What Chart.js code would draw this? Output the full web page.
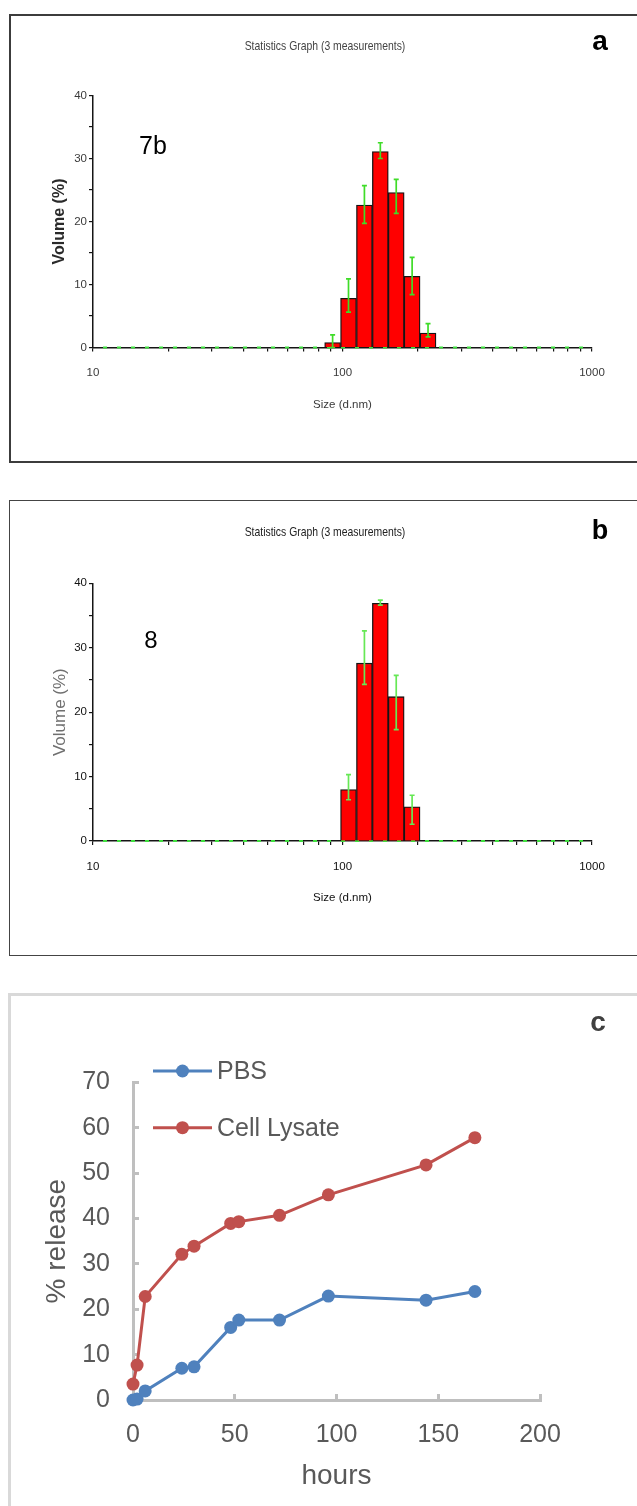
<!DOCTYPE html>
<html><head><meta charset="utf-8">
<script src="https://cdn.jsdelivr.net/npm/chart.js@4.4.1/dist/chart.umd.min.js"></script>
<style>
html,body{margin:0;padding:0;width:637px;height:1506px;overflow:hidden;background:#fff;}
.box{position:absolute;box-sizing:border-box;}
#boxA{left:9px;top:14px;width:700px;height:449px;border:2px solid #3c3c3c;}
#boxB{left:9px;top:500px;width:700px;height:456px;border:1px solid #444;}
#boxC{left:8px;top:993px;width:700px;height:600px;border:3px solid #d9d9d9;}
canvas{position:absolute;left:0;}
.lbl{position:absolute;transform:translate(-50%,-50%);white-space:nowrap;line-height:1;}
.narrow{transform:translate(-50%,-50%) scaleX(0.8);}
.sans{font-family:"Liberation Sans",Arial,sans-serif;}
</style></head>
<body>
<div class="box" id="boxA"></div>
<div class="box" id="boxB"></div>
<div class="box" id="boxC"></div>
<canvas id="cA" width="637" height="480" style="top:0px"></canvas>
<canvas id="cB" width="637" height="480" style="top:480px"></canvas>
<canvas id="cC" width="637" height="546" style="top:960px"></canvas>
<div class="lbl sans narrow" style="left:325px;top:45px;font-size:13px;color:#444">Statistics Graph (3 measurements)</div>
<div class="lbl sans narrow" style="left:325px;top:531px;font-size:13px;color:#222">Statistics Graph (3 measurements)</div>
<div class="lbl sans" style="left:600px;top:41px;font-size:28px;font-weight:bold;color:#000">a</div>
<div class="lbl sans" style="left:600px;top:530px;font-size:27px;font-weight:bold;color:#000">b</div>
<div class="lbl sans" style="left:598px;top:1022px;font-size:28px;font-weight:bold;color:#404040">c</div>
<div class="lbl sans" style="left:153px;top:145px;font-size:25px;color:#000">7b</div>
<div class="lbl sans" style="left:151px;top:640px;font-size:24px;color:#000">8</div>
<script>
// ---------- data ----------
const sizeAxisMin = 10;
const sizeAxisMax = 1000;
const sizeTickValues = [10, 20, 30, 40, 50, 60, 70, 80, 90, 100, 200, 300, 400, 500, 600, 700, 800, 900, 1000];
const sizeTickLabels = [10, 100, 1000];

const binSizesA = [91.28, 105.7, 122.4, 141.8, 164.2, 190.1, 220.2];
const volumeA   = [0.8, 7.8, 22.6, 31.1, 24.6, 11.3, 2.3];
const errLowA   = [0.0, 5.6, 19.7, 30.0, 21.3, 8.4, 1.7];
const errHighA  = [2.0, 10.9, 25.7, 32.5, 26.7, 14.3, 3.8];

const binSizesB = [105.7, 122.4, 141.8, 164.2, 190.1];
const volumeB   = [8.0, 27.6, 36.9, 22.4, 5.3];
const errLowB   = [6.4, 24.3, 36.6, 17.3, 2.6];
const errHighB  = [10.3, 32.6, 37.4, 25.7, 7.1];

const hours         = [0, 2, 6, 24, 30, 48, 52, 72, 96, 144, 168];
const releasePBS    = [0, 0.2, 2.0, 7.0, 7.3, 16.0, 17.6, 17.6, 22.9, 22.0, 23.9];
const releaseLysate = [3.5, 7.7, 22.8, 32.1, 33.9, 38.9, 39.3, 40.7, 45.2, 51.8, 57.8];

// ---------- plugins ----------
const errorBarPlugin = {
  id: 'errorBars',
  afterDatasetsDraw(chart) {
    const ctx = chart.ctx;
    chart.data.datasets.forEach((ds, di) => {
      if (!ds.errLow) return;
      const meta = chart.getDatasetMeta(di);
      const yS = chart.scales[meta.yAxisID];
      ctx.save();
      ctx.strokeStyle = ds.errColor;
      ctx.lineWidth = 1.7;
      meta.data.forEach((bar, i) => {
        const x = bar.x;
        const y1 = yS.getPixelForValue(ds.errLow[i]);
        const y2 = yS.getPixelForValue(ds.errHigh[i]);
        ctx.beginPath();
        ctx.moveTo(x, y1); ctx.lineTo(x, y2);
        ctx.moveTo(x - 2.5, y1); ctx.lineTo(x + 2.5, y1);
        ctx.moveTo(x - 2.5, y2); ctx.lineTo(x + 2.5, y2);
        ctx.stroke();
      });
      ctx.restore();
    });
  }
};

const insideLegend = {
  id: 'insideLegend',
  afterDraw(chart, args, opts) {
    const { ctx, chartArea } = chart;
    chart.data.datasets.forEach((ds, i) => {
      const y = chartArea.top + opts.firstOffset + i * opts.spacing;
      const x0 = chartArea.left + opts.lineStart;
      const x1 = x0 + opts.lineLength;
      ctx.save();
      ctx.strokeStyle = ds.borderColor;
      ctx.lineWidth = 3;
      ctx.beginPath(); ctx.moveTo(x0, y); ctx.lineTo(x1, y); ctx.stroke();
      ctx.fillStyle = ds.borderColor;
      ctx.beginPath(); ctx.arc((x0 + x1) / 2, y, 6.5, 0, Math.PI * 2); ctx.fill();
      ctx.fillStyle = opts.color;
      ctx.font = opts.font;
      ctx.textBaseline = 'middle';
      ctx.textAlign = 'left';
      ctx.fillText(ds.label, x1 + 5, y + 1);
      ctx.restore();
    });
  }
};

const SANS = "'Liberation Sans', Arial, sans-serif";

function makeHist(id, sizes, vols, lo, hi, st) {
  return new Chart(document.getElementById(id), {
    type: 'line',
    data: {
      datasets: [
        {
          type: 'bar', label: 'Volume', xAxisID: 'x', yAxisID: 'y',
          data: sizes.map((s, i) => ({ x: s, y: vols[i] })),
          backgroundColor: '#ff0000', borderColor: '#141414', borderWidth: 1.3,
          barThickness: 'flex', barPercentage: 1, categoryPercentage: 1, order: 1,
          errLow: lo, errHigh: hi, errColor: st.errColor
        },
        {
          type: 'line', label: 'baseline', xAxisID: 'x', yAxisID: 'y',
          data: [{ x: sizeAxisMin, y: 0 }, { x: sizeAxisMax, y: 0 }],
          borderColor: '#3fe03f', borderWidth: 1.8, borderDash: [4, 10], borderDashOffset: -10,
          pointRadius: 0, order: 2, clip: false
        }
      ]
    },
    options: {
      responsive: false, animation: false, events: [],
      datasets: { bar: { barThickness: 'flex', barPercentage: 1, categoryPercentage: 1 } },
      layout: { padding: { top: st.top, right: 45, bottom: 0, left: 0 } },
      plugins: { legend: { display: false }, tooltip: { enabled: false }, title: { display: false } },
      scales: {
        x: {
          type: 'logarithmic', position: 'bottom', min: sizeAxisMin, max: sizeAxisMax,
          offset: false,
          afterBuildTicks: s => { s.ticks = sizeTickValues.map(v => ({ value: v })); },
          afterFit: s => { s.height = st.xh; },
          border: { display: true, color: '#151515', width: 1.6 },
          grid: { drawOnChartArea: false, offset: false, color: '#151515', tickLength: 4, lineWidth: 1.2 },
          ticks: {
            autoSkip: false, maxRotation: 0, minRotation: 0, padding: st.xpad,
            font: { family: SANS, size: 11.5 }, color: st.tickColor,
            callback: v => sizeTickLabels.includes(v) ? String(v) : ''
          },
          title: {
            display: true, text: 'Size (d.nm)', font: { family: SANS, size: 11.5 },
            color: st.tickColor, padding: { top: 0, bottom: st.xtitlePad }
          }
        },
        y: {
          type: 'linear', position: 'left', min: 0, max: 40,
          afterFit: s => { s.width = 93; },
          border: { color: '#151515', width: 1.5 },
          grid: { drawOnChartArea: false, color: '#151515', tickLength: 4, lineWidth: 1.2 },
          ticks: {
            stepSize: 5, autoSkip: false, padding: 2,
            font: { family: SANS, size: 11.5 }, color: st.tickColor,
            callback: v => v % 10 === 0 ? String(v) : ''
          },
          title: {
            display: true, text: 'Volume (%)',
            font: { family: SANS, size: st.yTitleSize, weight: st.yTitleWeight },
            color: st.yTitleColor, padding: { top: st.yTitlePad, bottom: 0 }
          }
        }
      }
    },
    plugins: [errorBarPlugin]
  });
}

makeHist('cA', binSizesA, volumeA, errLowA, errHighA, {
  top: 95.5, xh: 132.5, xpad: 14.6, xtitlePad: 68, tickColor: '#3a3a3a',
  errColor: '#3fdc28', yTitleSize: 16, yTitleWeight: 'bold', yTitleColor: '#2a2a2a', yTitlePad: 50.4
});
makeHist('cB', binSizesB, volumeB, errLowB, errHighB, {
  top: 103.3, xh: 119, xpad: 14.8, xtitlePad: 55, tickColor: '#111',
  errColor: '#66e855', yTitleSize: 17, yTitleWeight: 'normal', yTitleColor: '#707070', yTitlePad: 49.8
});

new Chart(document.getElementById('cC'), {
  type: 'line',
  data: {
    datasets: [
      {
        label: 'PBS', data: hours.map((h, i) => ({ x: h, y: releasePBS[i] })),
        borderColor: '#4f81bd', backgroundColor: '#4f81bd', borderWidth: 3,
        pointRadius: 6.5, pointBorderWidth: 0, pointBackgroundColor: '#4f81bd', clip: false
      },
      {
        label: 'Cell Lysate', data: hours.map((h, i) => ({ x: h, y: releaseLysate[i] })),
        borderColor: '#c0504d', backgroundColor: '#c0504d', borderWidth: 3,
        pointRadius: 6.5, pointBorderWidth: 0, pointBackgroundColor: '#c0504d', clip: false
      }
    ]
  },
  options: {
    responsive: false, animation: false, events: [],
    layout: { padding: { top: 122.3, right: 97, bottom: 0, left: 0 } },
    plugins: {
      legend: { display: false }, tooltip: { enabled: false },
      insideLegend: { firstOffset: -11.3, spacing: 56.7, lineStart: 20, lineLength: 59, font: "25px 'Liberation Sans', Arial, sans-serif", color: '#595959' }
    },
    scales: {
      x: {
        type: 'linear', min: 0, max: 200,
        afterFit: s => { s.height = 106; },
        border: { color: '#bfbfbf', width: 3 },
        grid: { drawOnChartArea: false, color: '#bfbfbf', lineWidth: 3, tickLength: -6 },
        ticks: { stepSize: 50, padding: 26, maxRotation: 0, font: { family: SANS, size: 25 }, color: '#595959' },
        title: { display: true, text: 'hours', font: { family: SANS, size: 28 }, color: '#595959', padding: { top: 0, bottom: 12.5 } }
      },
      y: {
        type: 'linear', min: 0, max: 70,
        afterFit: s => { s.width = 133; },
        border: { color: '#bfbfbf', width: 3 },
        grid: { drawOnChartArea: false, color: '#bfbfbf', lineWidth: 3, tickLength: -6 },
        ticks: { stepSize: 10, padding: 29, font: { family: SANS, size: 25 }, color: '#595959' },
        title: { display: true, text: '% release', font: { family: SANS, size: 28 }, color: '#595959', padding: { top: 40.2, bottom: 0 } }
      }
    }
  },
  plugins: [insideLegend]
});
</script>
</body></html>
